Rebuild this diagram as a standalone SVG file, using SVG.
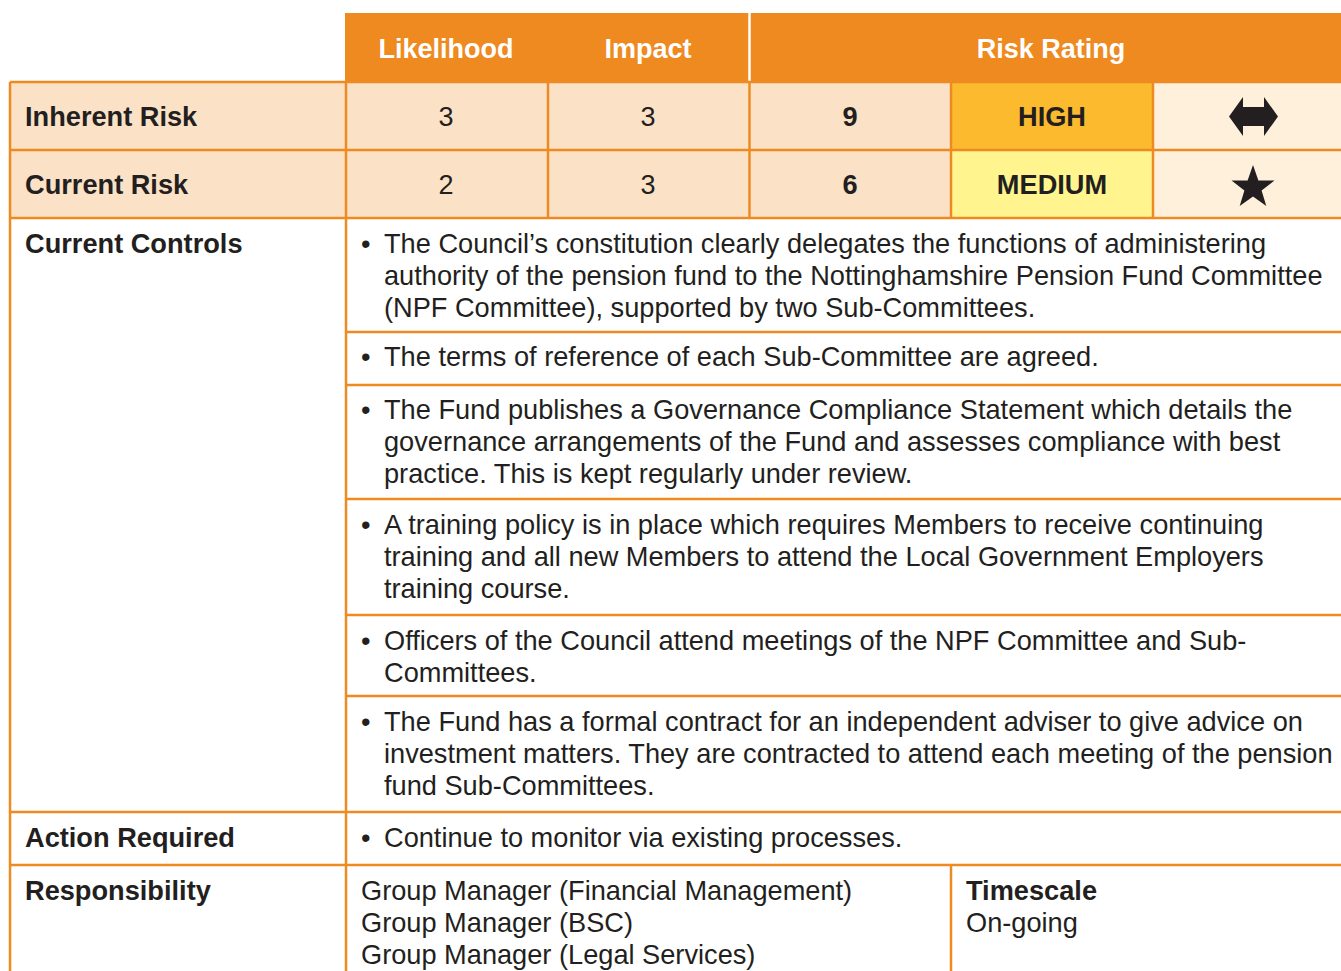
<svg xmlns="http://www.w3.org/2000/svg" width="1341" height="971" viewBox="0 0 1341 971">
<style>
.lbl{font-family:"Liberation Sans",Arial,sans-serif;font-weight:bold;font-size:27.2px;fill:#231F20}
.hd{font-family:"Liberation Sans",Arial,sans-serif;font-weight:bold;font-size:27px;fill:#FFFFFF}
.tx{font-family:"Liberation Sans",Arial,sans-serif;font-size:27.2px;fill:#231F20}
.num{font-family:"Liberation Sans",Arial,sans-serif;font-size:27px;fill:#231F20}
.grid{stroke:#EE8A22;stroke-width:2.5;fill:none}
</style>
<rect width="1341" height="971" fill="#FFFFFF"/>
<g id="header">
<rect x="345" y="13" width="996" height="69" fill="#EE8A1F"/>
<line x1="749.5" y1="13" x2="749.5" y2="82" stroke="#FFFFFF" stroke-width="2.5"/>
<text class="hd" x="446" y="58" text-anchor="middle">Likelihood</text>
<text class="hd" x="648" y="58" text-anchor="middle">Impact</text>
<text class="hd" x="1051" y="58" text-anchor="middle">Risk Rating</text>
</g>
<g id="row-inherent">
<rect x="10" y="82" width="941" height="136" fill="#FBE2C7"/>
<rect x="951" y="82" width="202" height="68" fill="#FCBA2E"/>
<rect x="951" y="150" width="202" height="68" fill="#FFF48E"/>
<rect x="1153" y="82" width="188" height="136" fill="#FEF0DB"/>
<text class="lbl" x="25" y="126">Inherent Risk</text>
<text class="num" x="446" y="126" text-anchor="middle">3</text>
<text class="num" x="648" y="126" text-anchor="middle">3</text>
<text class="lbl" x="850" y="126" text-anchor="middle">9</text>
<text class="lbl" x="1052" y="126" text-anchor="middle">HIGH</text>
<polygon points="1229,116.5 1243,97 1243,107 1264,107 1264,97 1278,116.5 1264,136 1264,126 1243,126 1243,136" fill="#231F20"/>
</g>
<g id="row-current">
<text class="lbl" x="25" y="194">Current Risk</text>
<text class="num" x="446" y="194" text-anchor="middle">2</text>
<text class="num" x="648" y="194" text-anchor="middle">3</text>
<text class="lbl" x="850" y="194" text-anchor="middle">6</text>
<text class="lbl" x="1052" y="194" text-anchor="middle">MEDIUM</text>
<polygon points="1253,165 1258.4,180.6 1274.5,180.6 1261.6,190.4 1266.3,206 1253,196.5 1239.7,206 1244.4,190.4 1231.5,180.6 1247.6,180.6" fill="#231F20"/>
</g>
<g id="controls">
<text class="lbl" x="25" y="253">Current Controls</text>
<text class="tx" x="361" y="253">•</text>
<text class="tx" x="384" y="253">The Council’s constitution clearly delegates the functions of administering</text>
<text class="tx" x="384" y="285">authority of the pension fund to the Nottinghamshire Pension Fund Committee</text>
<text class="tx" x="384" y="317">(NPF Committee), supported by two Sub-Committees.</text>
<text class="tx" x="361" y="366">•</text>
<text class="tx" x="384" y="366">The terms of reference of each Sub-Committee are agreed.</text>
<text class="tx" x="361" y="419">•</text>
<text class="tx" x="384" y="419">The Fund publishes a Governance Compliance Statement which details the</text>
<text class="tx" x="384" y="451">governance arrangements of the Fund and assesses compliance with best</text>
<text class="tx" x="384" y="483">practice. This is kept regularly under review.</text>
<text class="tx" x="361" y="534">•</text>
<text class="tx" x="384" y="534">A training policy is in place which requires Members to receive continuing</text>
<text class="tx" x="384" y="566">training and all new Members to attend the Local Government Employers</text>
<text class="tx" x="384" y="598">training course.</text>
<text class="tx" x="361" y="650">•</text>
<text class="tx" x="384" y="650">Officers of the Council attend meetings of the NPF Committee and Sub-</text>
<text class="tx" x="384" y="682">Committees.</text>
<text class="tx" x="361" y="731">•</text>
<text class="tx" x="384" y="731">The Fund has a formal contract for an independent adviser to give advice on</text>
<text class="tx" x="384" y="763">investment matters. They are contracted to attend each meeting of the pension</text>
<text class="tx" x="384" y="795">fund Sub-Committees.</text>
</g>
<g id="action">
<text class="lbl" x="25" y="847">Action Required</text>
<text class="tx" x="361" y="847">•</text>
<text class="tx" x="384" y="847">Continue to monitor via existing processes.</text>
</g>
<g id="responsibility">
<text class="lbl" x="25" y="900">Responsibility</text>
<text class="tx" x="361" y="900">Group Manager (Financial Management)</text>
<text class="tx" x="361" y="932">Group Manager (BSC)</text>
<text class="tx" x="361" y="964">Group Manager (Legal Services)</text>
<text class="lbl" x="966" y="900">Timescale</text>
<text class="tx" x="966" y="932">On-going</text>
</g>
<g id="connectors" class="grid">
<line x1="10" y1="82" x2="1341" y2="82"/>
<line x1="10" y1="150" x2="1341" y2="150"/>
<line x1="10" y1="218" x2="1341" y2="218"/>
<line x1="346" y1="332" x2="1341" y2="332"/>
<line x1="346" y1="385" x2="1341" y2="385"/>
<line x1="346" y1="499" x2="1341" y2="499"/>
<line x1="346" y1="615" x2="1341" y2="615"/>
<line x1="346" y1="696" x2="1341" y2="696"/>
<line x1="10" y1="812" x2="1341" y2="812"/>
<line x1="10" y1="865" x2="1341" y2="865"/>
<line x1="10" y1="82" x2="10" y2="971"/>
<line x1="346" y1="82" x2="346" y2="971"/>
<line x1="548" y1="82" x2="548" y2="218"/>
<line x1="749.5" y1="82" x2="749.5" y2="218"/>
<line x1="951" y1="82" x2="951" y2="218"/>
<line x1="1153" y1="82" x2="1153" y2="218"/>
<line x1="951" y1="865" x2="951" y2="971"/>
</g>
</svg>
